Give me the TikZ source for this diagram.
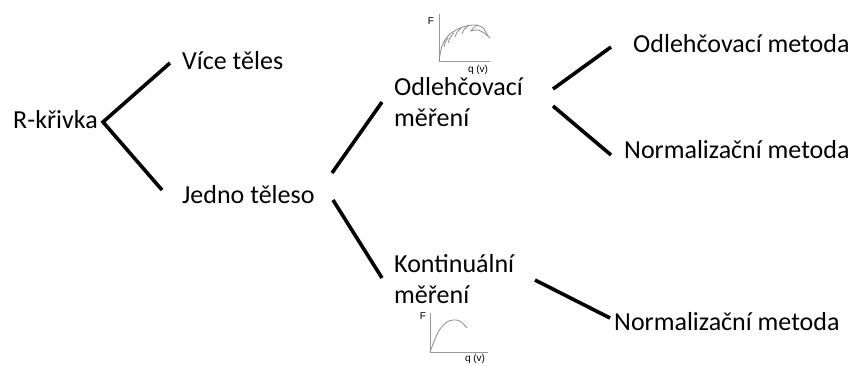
\documentclass[tikz,border=0pt]{standalone}
\usepackage{fontspec}
\setmainfont{Carlito}
\newfontfamily\graphfont{Liberation Sans}
\begin{document}
\begin{tikzpicture}[x=1pt,y=-1pt,
  lbl/.style={anchor=base west,inner sep=0pt,font=\fontsize{26}{31}\selectfont},
  conn/.style={line width=3.6pt,line cap=butt},
  ax/.style={draw=gray!80,line width=0.8pt},
  crv/.style={draw=gray!90,line width=0.8pt},
  glbl/.style={inner sep=0pt,font=\graphfont\fontsize{10}{11}\selectfont}]
\clip (0,0) rectangle (857,365);
\fill[white] (0,0) rectangle (857,365);
% nodes
\node[lbl] (rk) at (13,128) {R-křivka};
\node[lbl] (vt) at (182,69) {Více těles};
\node[lbl] (jt) at (182,203) {Jedno těleso};
\node[lbl] (om) at (394,95) {\fontsize{26}{31}\selectfont\begin{tabular}[t]{@{}l@{}}Odlehčovací\\měření\end{tabular}};
\node[lbl] (km) at (394,272) {\fontsize{26}{31}\selectfont\begin{tabular}[t]{@{}l@{}}Kontinuální\\měření\end{tabular}};
\node[lbl] (omet) at (633,52) {Odlehčovací metoda};
\node[lbl] (nm1) at (624,158) {Normalizační metoda};
\node[lbl] (nm2) at (614,330) {Normalizační metoda};
% connector end points
\coordinate (rkR) at (103,122);
\coordinate (vtL) at (170,63);
\coordinate (jtL) at (162,190);
\coordinate (jtA) at (332,173);
\coordinate (omL) at (382,102);
\coordinate (jtB) at (333,200);
\coordinate (kmL) at (382,278);
\coordinate (omA) at (553,89);
\coordinate (ometL) at (611,47);
\coordinate (omB) at (553,106);
\coordinate (nm1L) at (611,155);
\coordinate (kmR) at (535,280);
\coordinate (nm2L) at (610,318);
% connectors
\draw[conn] (vtL) -- (rkR) -- (jtL);
\draw[conn] (jtA) -- (omL);
\draw[conn] (jtB) -- (kmL);
\draw[conn] (omA) -- (ometL);
\draw[conn] (omB) -- (nm1L);
\draw[conn] (kmR) -- (nm2L);
% upper graph
\draw[ax] (439,14) -- (439,61) -- (490,61);
\node[glbl] (gF1) at (431,21) {F};
\node[glbl] (gq1) at (478,70) {q (v)};
\draw[crv] plot[smooth] coordinates {(439,61) (442,46) (448,36) (456,30) (466,26) (476,25) (483,28) (488,36)};
\draw[crv] plot[smooth] coordinates {(470,31) (478,30) (484,33) (490,38)};
\draw[crv] (444,47) .. controls (445,42) .. (448,38);
\draw[crv] (448,43) .. controls (450,37) .. (454,33);
\draw[crv] (455,37) .. controls (457,32) .. (461,28);
\draw[crv] (462,34) .. controls (464,29) .. (468,26);
\draw[crv] (471,31) .. controls (473,28) .. (477,25);
% lower graph
\draw[ax] (430,313) -- (430,352) -- (488,352);
\node[glbl] (gq2) at (475,359) {q (v)};
\node[glbl] (gF2) at (423,316) {F};
\draw[crv] plot[smooth] coordinates {(430,352) (435,339) (440,329) (447,322) (453,320) (460,321) (467,328)};
\end{tikzpicture}
\end{document}
